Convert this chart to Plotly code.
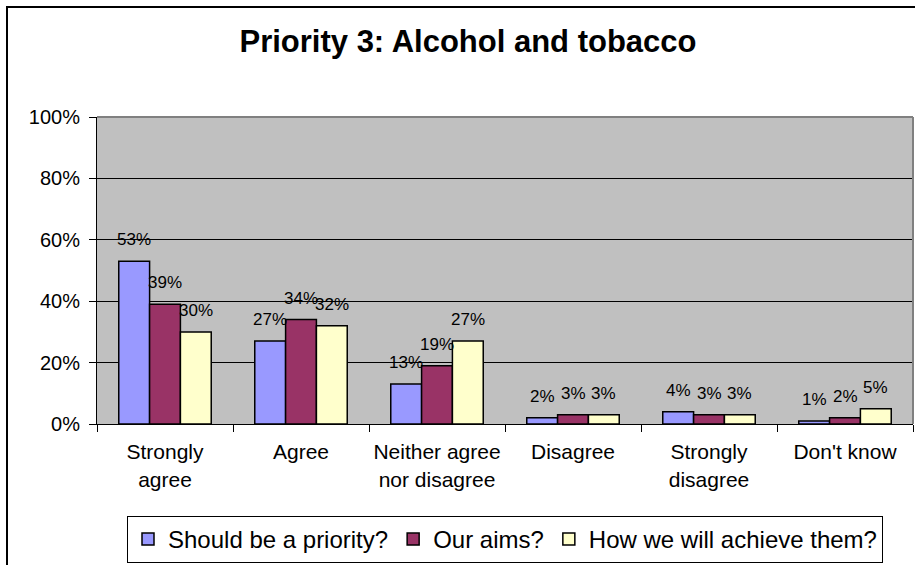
import plotly.graph_objects as go

# Survey responses (percent of respondents)
categories = ["Strongly<br>agree", "Agree", "Neither agree<br>nor disagree",
              "Disagree", "Strongly<br>disagree", "Don't know"]
series_names = ["Should be a priority?", "Our aims?", "How we will achieve them?"]
priority = [53, 27, 13, 2, 4, 1]
aims = [39, 34, 19, 3, 3, 2]
achieve = [30, 32, 27, 3, 3, 5]
y_ticks = [0, 20, 40, 60, 80, 100]
y_tick_labels = [f"{t}%" for t in y_ticks]

series_values = [priority, aims, achieve]
colors = ["#9999FF", "#993366", "#FFFFCC"]

FONT = "Arial, 'Liberation Sans', sans-serif"
W, H = 915, 565
ML, MR, MT, MB = 97, 2, 117, 141
PW = W - ML - MR
PH = H - MT - MB
BARGAP = 0.32
bar_px = PW / len(categories) * (1 - BARGAP) / len(series_values)

fig = go.Figure()
for name, vals, col in zip(series_names, series_values, colors):
    fig.add_trace(go.Bar(
        x=categories, y=vals, name=name,
        marker=dict(color=col, line=dict(color="black", width=1.5)),
        hoverinfo="skip",
    ))

# value labels above each bar
annotations = []
n = len(series_values)
for i, vals in enumerate(series_values):
    for cat, v in zip(categories, vals):
        annotations.append(dict(
            x=cat, y=v, xref="x", yref="y", text=f"{v}%",
            showarrow=False, yanchor="bottom", xanchor="center",
            xshift=(i - (n - 1) / 2) * bar_px, yshift=10,
            font=dict(family=FONT, size=17, color="black"),
        ))

px_x = lambda p: (p - ML) / PW
px_y = lambda p: (H - MB - p) / PH

shapes = [
    # outer chart frame
    dict(type="rect", xref="paper", yref="paper",
         x0=px_x(7), y0=px_y(H + 20), x1=px_x(W + 20), y1=px_y(7),
         line=dict(color="black", width=2), layer="below"),
    # plot area border (top and right)
    dict(type="line", xref="paper", yref="paper", x0=0, x1=1, y0=1, y1=1,
         line=dict(color="#808080", width=2), layer="above"),
    dict(type="line", xref="paper", yref="paper", x0=1, x1=1, y0=0, y1=1,
         line=dict(color="#808080", width=2), layer="above"),
]

fig.update_layout(
    width=W, height=H,
    margin=dict(l=ML, r=MR, t=MT, b=MB, autoexpand=False),
    paper_bgcolor="white", plot_bgcolor="#C0C0C0",
    barmode="group", bargap=BARGAP, bargroupgap=0,
    font=dict(family=FONT, color="black"),
    title=dict(text="<b>Priority 3: Alcohol and tobacco</b>",
               x=468 / W, xanchor="center", y=1 - 41 / H, yanchor="middle",
               xref="container", yref="container",
               font=dict(family=FONT, size=31, color="black")),
    xaxis=dict(showline=True, linecolor="black", linewidth=1,
               ticks="outside", tickson="boundaries", ticklen=7,
               tickcolor="black", tickfont=dict(family=FONT, size=21),
               ticklabelstandoff=9,
               tickangle=0, automargin=False, showgrid=False),
    yaxis=dict(range=[0, 100], tickvals=y_ticks, ticktext=y_tick_labels,
               showline=True, linecolor="black", linewidth=1,
               ticks="outside", ticklen=7, tickcolor="black",
               showgrid=True, gridcolor="black", gridwidth=1,
               zeroline=False, automargin=False, ticklabelstandoff=5,
               tickfont=dict(family=FONT, size=20)),
    legend=dict(orientation="h", x=0.5, xanchor="center",
                y=px_y(516), yanchor="top",
                bordercolor="black", borderwidth=1, bgcolor="white",
                font=dict(family=FONT, size=24)),
    annotations=annotations,
    shapes=shapes,
)

fig.write_html("out.html")
